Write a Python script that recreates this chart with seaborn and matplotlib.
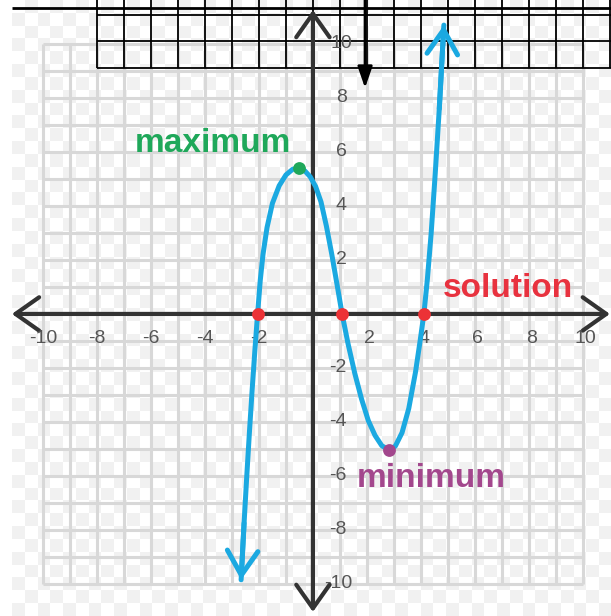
import matplotlib
matplotlib.use('Agg')
import matplotlib.pyplot as plt
import numpy as np
import pandas as pd
import seaborn as sns

# Curve (x, y in graph units)
curve_x = [-2.66, -2.55, -2.45, -2.35, -2.25, -2.15, -2.05, -1.95, -1.85, -1.70, -1.50,
           -1.25, -1.00, -0.75, -0.52, -0.30, -0.10, 0.10, 0.30, 0.50, 0.70, 0.90, 1.08,
           1.30, 1.55, 1.80, 2.05, 2.30, 2.55, 2.81, 3.05, 3.30, 3.55, 3.80, 3.97, 4.11,
           4.24, 4.38, 4.53, 4.68, 4.85]
curve_y = [-9.85, -7.75, -6.0, -4.35, -2.8, -1.35, 0.0, 1.25, 2.2, 3.2, 4.1,
           4.75, 5.15, 5.36, 5.40, 5.30, 5.08, 4.72, 4.15, 3.25, 2.2, 1.05, 0.0,
           -1.1, -2.2, -3.15, -3.95, -4.5, -4.88, -5.04, -4.9, -4.4, -3.5, -2.15, -1.0, 0.0,
           1.3, 3.0, 5.2, 7.6, 10.7]

# Marked points
root_x = [-2.05, 1.08, 4.11]
root_y = [0, 0, 0]
max_pt = (-0.52, 5.40)
min_pt = (2.81, -5.04)

# Labels
labels = ['maximum', 'solution', 'minimum']
label_x = [-3.7, 7.22, 4.4]
label_y = [6.01, 0.64, -6.41]
label_colors = ['#1fa85a', '#e8323f', '#a3478d']

ticks = [-10, -8, -6, -4, -2, 2, 4, 6, 8, 10]

# Stray black table grid at the top of the screenshot
table_cols = np.arange(-8, 12)
table_rows = [9.11, 10.10, 11.09]

blue = '#1ba9e1'
axis_c = '#333333'

sns.set_style('white')
plt.rcParams['font.family'] = ['Liberation Sans', 'DejaVu Sans']

fig = plt.figure(figsize=(6.11, 6.16), dpi=100)
ax = fig.add_axes([0, 0, 1, 1])
xmin, xmax, ymin, ymax = -11.59, 11.04, -11.19, 11.63

# checkerboard "transparent" background
nx, ny = 47, 48
cb = (np.indices((ny, nx)).sum(axis=0) % 2).astype(float)
ax.imshow(cb, cmap=matplotlib.colors.ListedColormap(['#ffffff', '#f1f1f1']),
          extent=(-11.15, xmax, ymin, ymax), aspect='auto', zorder=0, interpolation='nearest')

# light grid
grid = np.arange(-10, 11)
ax.vlines(grid, -10, 10, color='#d8d8d8', lw=2.2, zorder=1)
ax.hlines(grid, -10, 10, color='#d8d8d8', lw=2.2, zorder=1)

# black table lines
ax.vlines(table_cols, table_rows[0], ymax, color='black', lw=1.3, zorder=2)
ax.hlines(table_rows, -8, xmax, color='black', lw=1.3, zorder=2)
ax.hlines(11.33, -11.15, xmax, color='black', lw=2, zorder=2)

# black stray arrow
ax.annotate('', xy=(1.93, 8.37), xytext=(1.93, ymax),
            arrowprops=dict(arrowstyle='-|>,head_length=1.3,head_width=0.45',
                            lw=2, color='black', shrinkA=0, shrinkB=0), zorder=3)

# axes with arrows
ax.annotate('', xy=(11.0, 0), xytext=(-11.15, 0),
            arrowprops=dict(arrowstyle='<->,head_length=1.7,head_width=1.2',
                            lw=3, color=axis_c, shrinkA=0, shrinkB=0), zorder=4)
ax.annotate('', xy=(0, 11.26), xytext=(0, -11.04),
            arrowprops=dict(arrowstyle='<->,head_length=1.7,head_width=1.2',
                            lw=3, color=axis_c, shrinkA=0, shrinkB=0), zorder=4)

# tick labels
for t in ticks:
    ax.text(t + (0.1 if t > 0 else 0), -0.9, str(t), ha='center', va='center',
            fontsize=14, color='#555555', zorder=5)
    off = 1.25 if abs(t) < 10 else 1.45
    ax.text(off, t, str(t), ha='right', va='center', fontsize=14, color='#555555', zorder=5)

# curve
df = pd.DataFrame({'x': curve_x, 'y': curve_y})
sns.lineplot(data=df, x='x', y='y', sort=False, color=blue, lw=3.6, ax=ax, zorder=6)
for i0, i1 in [(1, 0), (-2, -1)]:
    ax.annotate('', xy=(curve_x[i1], curve_y[i1]), xytext=(curve_x[i0], curve_y[i0]),
                arrowprops=dict(arrowstyle='->,head_length=1.75,head_width=1.1',
                                lw=3.6, color=blue, shrinkA=0, shrinkB=0), zorder=6)

# points
sns.scatterplot(x=root_x, y=root_y, color='#ec3236', s=85, linewidth=0, ax=ax, zorder=7)
sns.scatterplot(x=[max_pt[0]], y=[max_pt[1]], color='#1fa85a', s=85, linewidth=0, ax=ax, zorder=7)
sns.scatterplot(x=[min_pt[0]], y=[min_pt[1]], color='#a3478d', s=85, linewidth=0, ax=ax, zorder=7)

for lab, lx, ly, c in zip(labels, label_x, label_y, label_colors):
    ax.text(lx, ly, lab, ha='center', va='baseline', fontsize=24, fontweight='bold',
            color=c, zorder=8)

ax.set_xlim(xmin, xmax)
ax.set_ylim(ymin, ymax)
ax.set_xlabel('')
ax.set_ylabel('')
ax.axis('off')

fig.savefig('out.png', dpi=100)
